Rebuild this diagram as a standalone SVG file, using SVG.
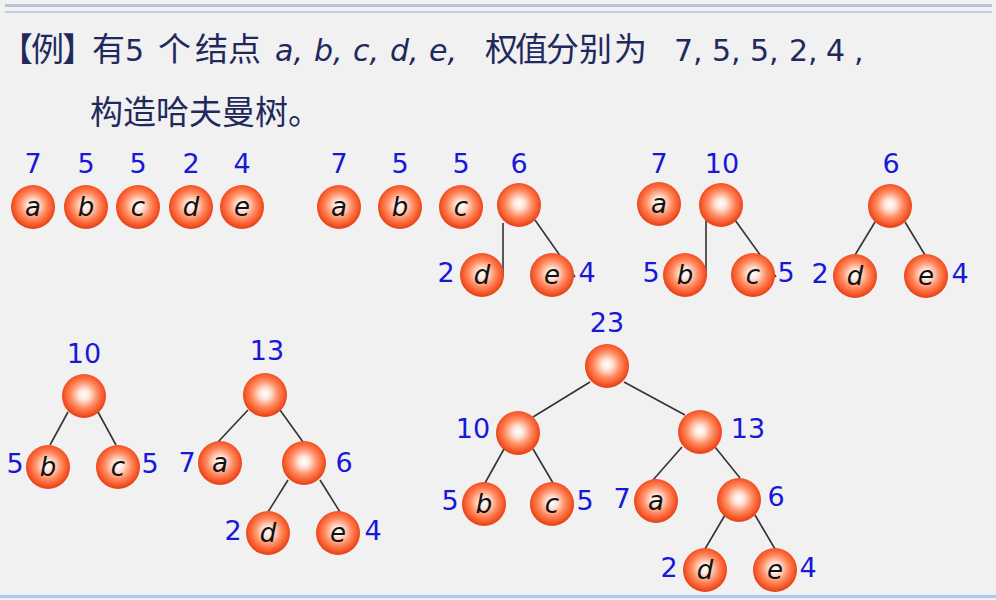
<svg xmlns="http://www.w3.org/2000/svg" width="996" height="600" viewBox="0 0 996 600">
<defs>
<radialGradient id="ball" cx="50%" cy="47%" r="50%">
<stop offset="0" stop-color="#ffffff"/>
<stop offset="0.25" stop-color="#ffe3d8"/>
<stop offset="0.6" stop-color="#ff8c62"/>
<stop offset="0.88" stop-color="#f85a2b"/>
<stop offset="1" stop-color="#e6461c"/>
</radialGradient>
<style>
.n{fill:url(#ball);}
.l{font-family:"DejaVu Sans",Verdana,sans-serif;font-style:italic;font-size:26px;fill:#111;text-anchor:middle;}
.w{font-family:"DejaVu Sans",Verdana,sans-serif;font-size:27px;fill:#1818d8;text-anchor:middle;}
.e{stroke:#333;stroke-width:1.6;fill:none;}
.t{font-family:"Noto Sans CJK SC",sans-serif;font-size:33px;fill:#1f2a5c;}
.tl{font-family:"DejaVu Sans","Noto Sans CJK SC",sans-serif;font-size:30px;fill:#1f2a5c;}
.ti{font-family:"DejaVu Sans","Noto Sans CJK SC",sans-serif;font-size:30px;fill:#1f2a5c;font-style:italic;}
</style>
</defs>
<rect width="996" height="600" fill="#f2f1f2"/>
<rect x="5" y="4" width="987" height="3" fill="#b9c4dc"/>
<rect x="5" y="11" width="987" height="2" fill="#c3cde2"/>
<rect x="0" y="595" width="996" height="3" fill="#a9cdea"/>

<g id="title">
<text class="t" x="0" y="61" letter-spacing="-2">【例】</text>
<text class="t" x="92" y="61">有</text>
<text class="tl" x="125" y="61">5</text>
<text class="t" x="158" y="61">个</text>
<text class="t" x="195" y="61">结</text>
<text class="t" x="228" y="61">点</text>
<text class="ti" x="275" y="61">a,</text>
<text class="ti" x="314" y="61">b,</text>
<text class="ti" x="353" y="61">c,</text>
<text class="ti" x="390" y="61">d,</text>
<text class="ti" x="429" y="61">e,</text>
<text class="t" x="485" y="61">权</text>
<text class="t" x="515" y="61">值</text>
<text class="t" x="546" y="61">分</text>
<text class="t" x="579" y="61">别</text>
<text class="t" x="614" y="61">为</text>
<text class="tl" x="674" y="61">7,</text>
<text class="tl" x="712" y="61">5,</text>
<text class="tl" x="750" y="61">5,</text>
<text class="tl" x="789" y="61">2,</text>
<text class="tl" x="826" y="61">4</text>
<text class="tl" x="854" y="61">,</text>
<text class="t" x="90" y="124">构造哈夫曼树。</text>
</g>

<g id="connectors">
<line class="e" x1="503" y1="223" x2="503" y2="277"/>
<line class="e" x1="535" y1="220" x2="575" y2="277"/>
<line class="e" x1="706" y1="220" x2="706" y2="277"/>
<line class="e" x1="735" y1="220" x2="776" y2="277"/>
<line class="e" x1="875" y1="222" x2="855" y2="255"/>
<line class="e" x1="905" y1="222" x2="925" y2="255"/>
<line class="e" x1="68" y1="412" x2="50" y2="445"/>
<line class="e" x1="98" y1="412" x2="116" y2="445"/>
<line class="e" x1="248" y1="410" x2="218" y2="442"/>
<line class="e" x1="280" y1="410" x2="303" y2="442"/>
<line class="e" x1="288" y1="480" x2="268" y2="512"/>
<line class="e" x1="320" y1="480" x2="340" y2="512"/>
<line class="e" x1="590" y1="382" x2="533" y2="417"/>
<line class="e" x1="624" y1="382" x2="685" y2="415"/>
<line class="e" x1="504" y1="449" x2="485" y2="483"/>
<line class="e" x1="533" y1="449" x2="553" y2="483"/>
<line class="e" x1="682" y1="447" x2="653" y2="480"/>
<line class="e" x1="715" y1="447" x2="740" y2="478"/>
<line class="e" x1="725" y1="515" x2="705" y2="549"/>
<line class="e" x1="755" y1="515" x2="775" y2="549"/>
</g>

<g id="step1">
<g id="s1a"><circle class="n" cx="33" cy="207" r="22"/><text class="l" x="33" y="216">a</text><text class="w" x="33" y="173">7</text></g>
<g id="s1b"><circle class="n" cx="86" cy="207" r="22"/><text class="l" x="86" y="216">b</text><text class="w" x="86" y="173">5</text></g>
<g id="s1c"><circle class="n" cx="138" cy="207" r="22"/><text class="l" x="138" y="216">c</text><text class="w" x="138" y="173">5</text></g>
<g id="s1d"><circle class="n" cx="191" cy="207" r="22"/><text class="l" x="191" y="216">d</text><text class="w" x="191" y="173">2</text></g>
<g id="s1e"><circle class="n" cx="242" cy="207" r="22"/><text class="l" x="242" y="216">e</text><text class="w" x="242" y="173">4</text></g>
</g>

<g id="step2">
<g id="s2a"><circle class="n" cx="339" cy="207" r="22"/><text class="l" x="339" y="216">a</text><text class="w" x="339" y="173">7</text></g>
<g id="s2b"><circle class="n" cx="400" cy="207" r="22"/><text class="l" x="400" y="216">b</text><text class="w" x="400" y="173">5</text></g>
<g id="s2c"><circle class="n" cx="461" cy="207" r="22"/><text class="l" x="461" y="216">c</text><text class="w" x="461" y="173">5</text></g>
<g id="s2n6"><circle class="n" cx="519" cy="205" r="22"/><text class="w" x="519" y="173">6</text></g>
<g id="s2d"><circle class="n" cx="482" cy="275" r="22"/><text class="l" x="482" y="284">d</text><text class="w" x="446" y="282">2</text></g>
<g id="s2e"><circle class="n" cx="552" cy="275" r="22"/><text class="l" x="552" y="284">e</text><text class="w" x="587" y="282">4</text></g>
</g>

<g id="step3">
<g id="s3a"><circle class="n" cx="659" cy="204" r="22"/><text class="l" x="659" y="213">a</text><text class="w" x="659" y="173">7</text></g>
<g id="s3n10"><circle class="n" cx="721" cy="205" r="22"/><text class="w" x="722" y="173">10</text></g>
<g id="s3b"><circle class="n" cx="685" cy="275" r="22"/><text class="l" x="685" y="284">b</text><text class="w" x="651" y="282">5</text></g>
<g id="s3c"><circle class="n" cx="753" cy="275" r="22"/><text class="l" x="753" y="284">c</text><text class="w" x="786" y="282">5</text></g>
<g id="s3n6"><circle class="n" cx="890" cy="206" r="22"/><text class="w" x="891" y="173">6</text></g>
<g id="s3d"><circle class="n" cx="855" cy="276" r="22"/><text class="l" x="855" y="285">d</text><text class="w" x="820" y="283">2</text></g>
<g id="s3e"><circle class="n" cx="926" cy="276" r="22"/><text class="l" x="926" y="285">e</text><text class="w" x="960" y="283">4</text></g>
</g>

<g id="step4">
<g id="s4n10"><circle class="n" cx="84" cy="396" r="22"/><text class="w" x="84" y="363">10</text></g>
<g id="s4b"><circle class="n" cx="48" cy="467" r="22"/><text class="l" x="48" y="476">b</text><text class="w" x="15" y="473">5</text></g>
<g id="s4c"><circle class="n" cx="118" cy="467" r="22"/><text class="l" x="118" y="476">c</text><text class="w" x="150" y="473">5</text></g>
<g id="s4n13"><circle class="n" cx="265" cy="395" r="22"/><text class="w" x="267" y="360">13</text></g>
<g id="s4a"><circle class="n" cx="220" cy="463" r="22"/><text class="l" x="220" y="472">a</text><text class="w" x="187" y="472">7</text></g>
<g id="s4n6"><circle class="n" cx="304" cy="463" r="22"/><text class="w" x="344" y="472">6</text></g>
<g id="s4d"><circle class="n" cx="268" cy="533" r="22"/><text class="l" x="268" y="542">d</text><text class="w" x="233" y="540">2</text></g>
<g id="s4e"><circle class="n" cx="338" cy="533" r="22"/><text class="l" x="338" y="542">e</text><text class="w" x="373" y="540">4</text></g>
</g>

<g id="step5">
<g id="s5n23"><circle class="n" cx="607" cy="366" r="22"/><text class="w" x="607" y="332">23</text></g>
<g id="s5n10"><circle class="n" cx="518" cy="433" r="22"/><text class="w" x="473" y="438">10</text></g>
<g id="s5n13"><circle class="n" cx="700" cy="432" r="22"/><text class="w" x="748" y="438">13</text></g>
<g id="s5b"><circle class="n" cx="484" cy="504" r="22"/><text class="l" x="484" y="513">b</text><text class="w" x="450" y="510">5</text></g>
<g id="s5c"><circle class="n" cx="552" cy="504" r="22"/><text class="l" x="552" y="513">c</text><text class="w" x="585" y="510">5</text></g>
<g id="s5a"><circle class="n" cx="656" cy="501" r="22"/><text class="l" x="656" y="510">a</text><text class="w" x="622" y="508">7</text></g>
<g id="s5n6"><circle class="n" cx="739" cy="500" r="22"/><text class="w" x="776" y="506">6</text></g>
<g id="s5d"><circle class="n" cx="705" cy="570" r="22"/><text class="l" x="705" y="579">d</text><text class="w" x="669" y="577">2</text></g>
<g id="s5e"><circle class="n" cx="775" cy="570" r="22"/><text class="l" x="775" y="579">e</text><text class="w" x="808" y="577">4</text></g>
</g>
</svg>
